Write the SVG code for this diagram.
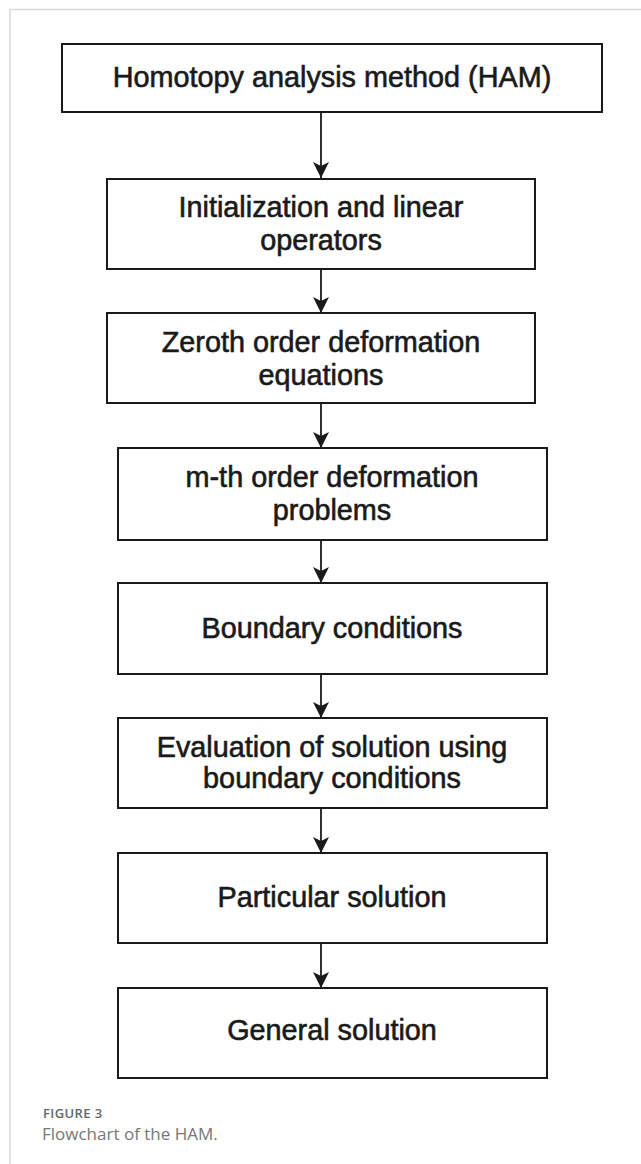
<svg xmlns="http://www.w3.org/2000/svg" width="641" height="1164" viewBox="0 0 641 1164">
<style>
.box{fill:#fff;stroke:#1a1a1a;stroke-width:2}
.t{font-family:"Liberation Sans",Arial,sans-serif;font-size:28.8px;fill:#1a1a1a;stroke:#1a1a1a;stroke-width:0.6;text-anchor:middle}
.edge{stroke:#1a1a1a;stroke-width:1.8;fill:none}
.cap1{font-family:"Open Sans","Noto Sans",sans-serif;font-size:13px;font-weight:600;fill:#666;letter-spacing:0.4px}
.cap2{font-family:"Open Sans","Noto Sans",sans-serif;font-size:17px;fill:#777}
</style>
<defs>
<marker id="ah" markerWidth="16" markerHeight="16" viewBox="0 0 16 16" refX="16" refY="8" orient="auto" markerUnits="userSpaceOnUse">
<path d="M0,0 L16,8 L0,16 L4,8 Z" fill="#1a1a1a"/>
</marker>
</defs>
<rect width="641" height="1164" fill="#fff"/>
<path d="M10,1164 V9.5 H641" fill="none" stroke="#d9d9d9" stroke-width="1.5"/>
<g id="connectors">
<line class="edge" x1="321" y1="112" x2="321" y2="178" marker-end="url(#ah)"/>
<line class="edge" x1="321" y1="269" x2="321" y2="313" marker-end="url(#ah)"/>
<line class="edge" x1="321" y1="403" x2="321" y2="448" marker-end="url(#ah)"/>
<line class="edge" x1="321" y1="540" x2="321" y2="583" marker-end="url(#ah)"/>
<line class="edge" x1="321" y1="674" x2="321" y2="718" marker-end="url(#ah)"/>
<line class="edge" x1="321" y1="808" x2="321" y2="853" marker-end="url(#ah)"/>
<line class="edge" x1="321" y1="943" x2="321" y2="988" marker-end="url(#ah)"/>
</g>
<g id="n1"><rect class="box" x="62" y="44" width="540" height="68"/><text class="t" x="332" y="87">Homotopy analysis method (HAM)</text></g>
<g id="n2"><rect class="box" x="107" y="179" width="428" height="90"/><text class="t" x="321" y="217">Initialization and linear</text><text class="t" x="321" y="250">operators</text></g>
<g id="n3"><rect class="box" x="107" y="313" width="428" height="90"/><text class="t" x="321" y="352">Zeroth order deformation</text><text class="t" x="321" y="385">equations</text></g>
<g id="n4"><rect class="box" x="118" y="448" width="429" height="92"/><text class="t" x="332" y="487">m-th order deformation</text><text class="t" x="332" y="520">problems</text></g>
<g id="n5"><rect class="box" x="118" y="583" width="429" height="91"/><text class="t" x="332" y="638">Boundary conditions</text></g>
<g id="n6"><rect class="box" x="118" y="718" width="429" height="90"/><text class="t" x="332" y="757">Evaluation of solution using</text><text class="t" x="332" y="788">boundary conditions</text></g>
<g id="n7"><rect class="box" x="118" y="853" width="429" height="90"/><text class="t" x="332" y="907">Particular solution</text></g>
<g id="n8"><rect class="box" x="118" y="988" width="429" height="90"/><text class="t" x="332" y="1040">General solution</text></g>
<text class="cap1" x="43" y="1118">FIGURE 3</text>
<text class="cap2" x="42" y="1140">Flowchart of the HAM.</text>
</svg>
